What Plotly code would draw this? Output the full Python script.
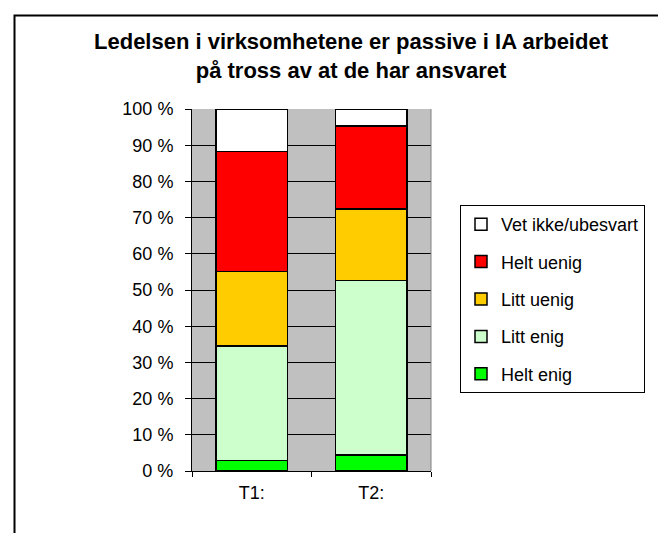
import plotly.graph_objects as go

categories = ["T1:", "T2:"]
series_names = ["Helt enig", "Litt enig", "Litt uenig", "Helt uenig", "Vet ikke/ubesvart"]
helt_enig = [2.9, 4.4]
litt_enig = [31.6, 48.2]
litt_uenig = [20.6, 19.8]
helt_uenig = [33.2, 22.9]
vet_ikke = [11.7, 4.7]
series_values = [helt_enig, litt_enig, litt_uenig, helt_uenig, vet_ikke]
colors = ["#00FF00", "#CCFFCC", "#FFCC00", "#FF0000", "#FFFFFF"]
y_ticks = list(range(0, 101, 10))
y_tick_labels = [f"{v} %" for v in y_ticks]

FONT = "Liberation Sans, Arial, sans-serif"

fig = go.Figure()
n = len(series_names)
for i, (name, vals, col) in enumerate(zip(series_names, series_values, colors)):
    fig.add_trace(go.Bar(
        x=categories, y=vals, name=name, legendgroup=name,
        legendrank=n - i,
        marker=dict(color=col, line=dict(color="black", width=1.5)),
        width=0.6,
    ))

fig.update_layout(
    width=666, height=533,
    barmode="stack",
    paper_bgcolor="white",
    plot_bgcolor="#C0C0C0",
    margin=dict(l=184, r=243, t=101, b=70),
    font=dict(family=FONT, size=18, color="black"),
    title=dict(
        text="<b>Ledelsen i virksomhetene er passive i IA arbeidet<br>på tross av at de har ansvaret</b>",
        font=dict(family=FONT, size=22, color="black"),
        x=343/666, xanchor="center", xref="container",
        y=1 - 41/533, yanchor="top", yref="container",
    ),
    xaxis=dict(
        type="category", tickson="boundaries", ticks="outside", ticklen=5,
        tickcolor="black", showline=True, linecolor="black", linewidth=1,
        showgrid=False, tickfont=dict(size=18), ticklabelstandoff=5,
    ),
    yaxis=dict(
        range=[0, 100], tickvals=y_ticks, ticktext=y_tick_labels,
        ticks="outside", ticklen=6, tickcolor="black",
        showline=True, linecolor="black", linewidth=1,
        showgrid=True, gridcolor="black", gridwidth=1,
        zeroline=False, tickfont=dict(size=18), ticklabelstandoff=8,
    ),
    legend=dict(
        x=(452 - 184) / 239, y=(463 - 197) / 362,
        xanchor="left", yanchor="top",
        traceorder="grouped",
        tracegroupgap=11,
        itemwidth=30,
        bgcolor="white", bordercolor="black", borderwidth=1,
        font=dict(size=18),
    ),
    showlegend=True,
    shapes=[
        dict(type="rect", xref="paper", yref="paper",
             x0=(6.5 - 184) / 239, x1=3, y0=-1, y1=(463 - 7.5) / 362,
             line=dict(color="black", width=2), fillcolor="rgba(0,0,0,0)", layer="below"),
        dict(type="line", xref="paper", yref="paper", x0=1, x1=1, y0=0, y1=1,
             line=dict(color="#808080", width=1)),
    ],
)

fig.write_html("out.html")
